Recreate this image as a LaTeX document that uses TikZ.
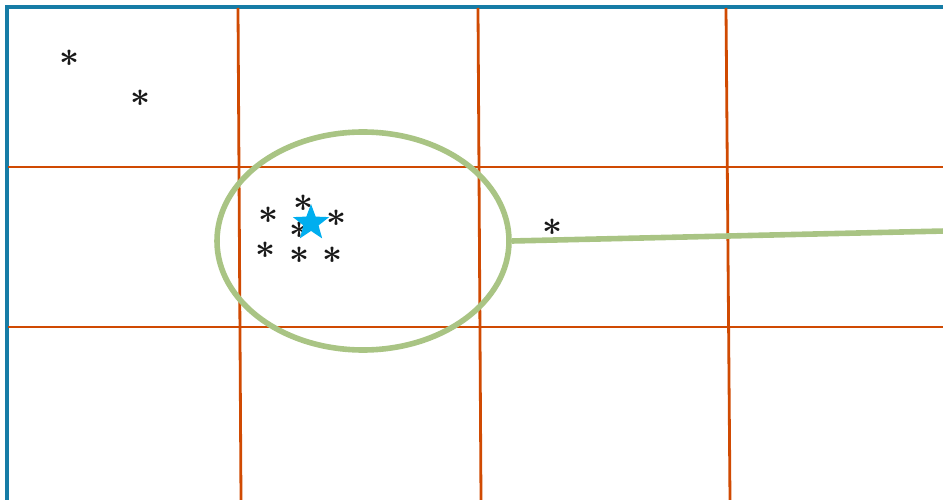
\documentclass[tikz,border=0pt]{standalone}
\usetikzlibrary{shapes.geometric}
\definecolor{frameblue}{RGB}{22,124,166}
\definecolor{gridorange}{RGB}{208,74,2}
\definecolor{ellgreen}{RGB}{169,196,132}
\definecolor{starcyan}{RGB}{0,174,239}
\newcommand{\astmark}{\scalebox{1.4}{\boldmath$\ast$}}
\tikzset{
  gridline/.style={draw=gridorange, line width=2.8pt},
  pt/.style={inner sep=0pt, font=\fontsize{24}{24}\selectfont, text=black!90, xshift=1.5pt},
}
\begin{document}
\begin{tikzpicture}[x=1pt,y=-1pt]
\useasboundingbox (0,0) rectangle (943,500);
% frame
\draw[frameblue, line width=3.4pt] (7,520) -- (7,7) -- (960,7);
% grid
\draw[gridline] (8,167) -- (943,167);
\draw[gridline] (8,327) -- (943,327);
\draw[gridline] (238,8) -- (241,500);
\draw[gridline] (478,8) -- (481,500);
\draw[gridline] (726,8) -- (730,500);
% ellipse and line
\node[draw=ellgreen, line width=5.6pt, ellipse, minimum width=292pt, minimum height=218pt, inner sep=0pt] (ell) at (363,241) {};
\coordinate (tail) at (945,231);
\draw[ellgreen, line width=5.6pt] (ell.east) -- (tail);
% points
\foreach \n/\x/\y in {a/68/58, b/139/98, c/267/215, d/302/203, e/335/218, f/298/230, g/264/250, h/298/255, i/331/255, j/551/227}
  \node[pt] (p\n) at (\x,\y) {\astmark};
% star
\node[star, star points=5, star point ratio=2.4, fill=starcyan, minimum size=38pt, inner sep=0pt] (st) at (311,223) {};
\end{tikzpicture}
\end{document}
